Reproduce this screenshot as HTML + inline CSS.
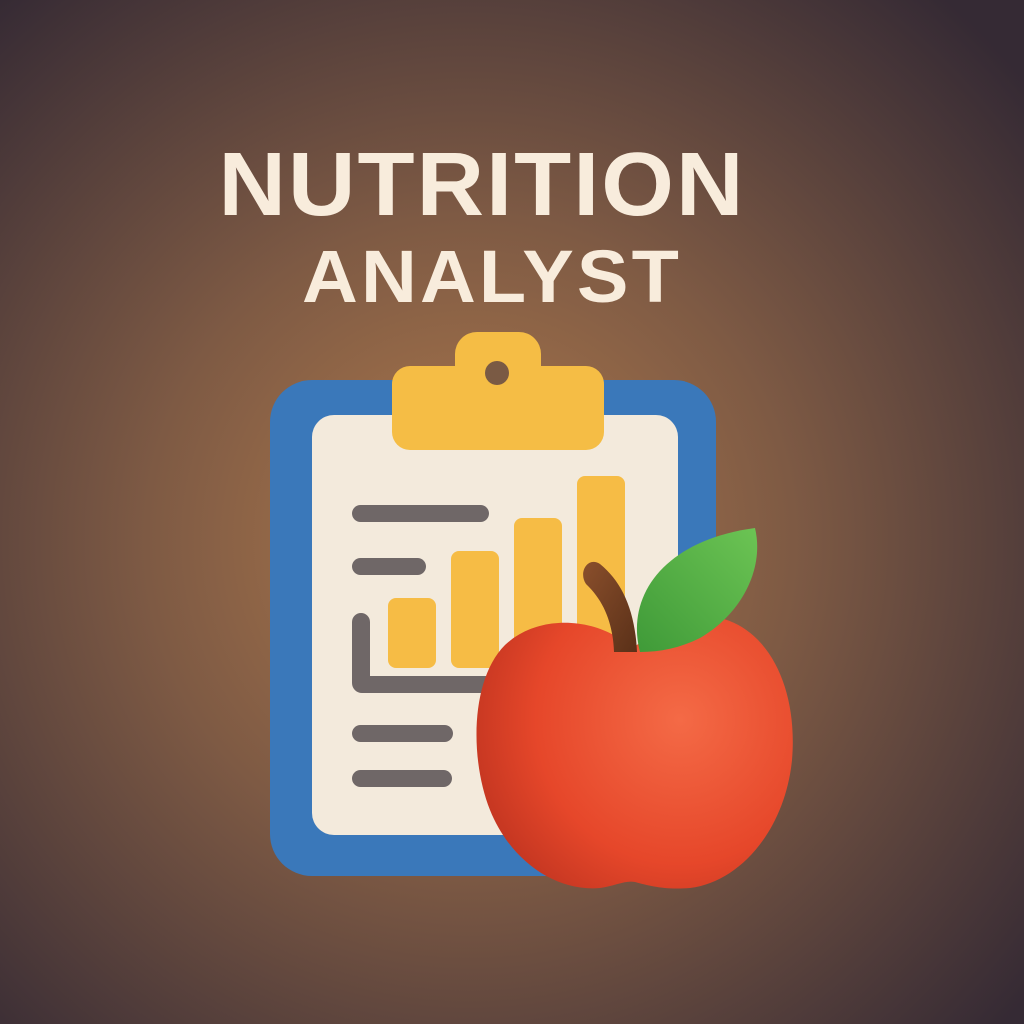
<!DOCTYPE html>
<html><head><meta charset="utf-8"><style>
html,body{margin:0;padding:0;width:1024px;height:1024px;overflow:hidden}
svg{display:block}
</style></head><body>
<svg width="1024" height="1024" viewBox="0 0 1024 1024">
<defs>
<radialGradient id="bg" cx="470" cy="540" r="720" gradientUnits="userSpaceOnUse">
<stop offset="0" stop-color="#b07a4c"/><stop offset="0.45" stop-color="#7e5a44"/><stop offset="1" stop-color="#352a34"/>
</radialGradient>
<radialGradient id="apple" cx="680" cy="720" r="240" gradientUnits="userSpaceOnUse">
<stop offset="0" stop-color="#f46a46"/><stop offset="0.6" stop-color="#e6472a"/><stop offset="1" stop-color="#b8301e"/>
</radialGradient>
<linearGradient id="leaf" x1="0" y1="1" x2="1" y2="0"><stop offset="0" stop-color="#3f9a38"/><stop offset="1" stop-color="#6cc454"/></linearGradient>
<linearGradient id="stem" x1="0" y1="0" x2="1" y2="1"><stop offset="0" stop-color="#8a4f2c"/><stop offset="1" stop-color="#5a3018"/></linearGradient>
</defs>
<rect width="1024" height="1024" fill="url(#bg)"/>
<text x="482" y="215" text-anchor="middle" font-family="Liberation Sans, sans-serif" font-weight="bold" font-size="90" fill="#f8ecdc" letter-spacing="2" textLength="527" lengthAdjust="spacingAndGlyphs">NUTRITION</text>
<text x="492" y="302" text-anchor="middle" font-family="Liberation Sans, sans-serif" font-weight="bold" font-size="74" fill="#f8ecdc" letter-spacing="3" textLength="380" lengthAdjust="spacingAndGlyphs">ANALYST</text>

<rect x="270" y="380" width="446" height="496" rx="42" fill="#3a78ba"/>
<rect x="312" y="415" width="366" height="420" rx="22" fill="#f3eadc"/>
<g>
<rect x="455" y="332" width="86" height="60" rx="22" fill="#f5bd45"/>
<rect x="392" y="366" width="212" height="84" rx="18" fill="#f5bd45"/>
<circle cx="497" cy="373" r="12" fill="#7a5a44"/>
</g>
<g fill="#6f6767">
<rect x="352" y="505" width="137" height="17" rx="8.5"/>
<rect x="352" y="558" width="74" height="17" rx="8.5"/>
<path d="M352 622 a9 9 0 0 1 18 0 V676 H490 V693 H362 a10 10 0 0 1 -10 -10 Z"/>
<rect x="352" y="725" width="101" height="17" rx="8.5"/>
<rect x="352" y="770" width="100" height="17" rx="8.5"/>
</g>
<g id="bars"></g>

<g>
<path d="M632 648 C600 618 540 612 505 645 C470 680 470 760 490 810 C510 860 555 892 600 888 C615 886 625 880 635 882 C650 886 665 890 690 888 C740 882 785 830 792 760 C798 690 770 630 720 618 C690 612 660 630 632 648 Z" fill="url(#apple)"/>
<path d="M637 652 C635 610 622 582 600 564 C588 556 578 572 586 584 C605 602 613 625 614 652 Z" fill="url(#stem)"/>
<path d="M640 652 C625 595 665 540 755 528 C765 570 740 615 700 638 C680 648 660 652 640 652 Z" fill="url(#leaf)"/>
</g>
</svg>
<script>
const categories = ["A","B","C","D"];
const values = [70, 117, 150, 192];
const g = document.getElementById('bars');
const baseY = 668, x0 = 388, step = 63, bw = 48;
function yScale(v){ return baseY - v; }
values.forEach((v,i)=>{
  const r = document.createElementNS('http://www.w3.org/2000/svg','rect');
  r.setAttribute('x', x0 + i*step);
  r.setAttribute('y', yScale(v));
  r.setAttribute('width', bw);
  r.setAttribute('height', v);
  r.setAttribute('rx', 8);
  r.setAttribute('fill', '#f6bc45');
  
  
  g.appendChild(r);
});
</script>
</body></html>
